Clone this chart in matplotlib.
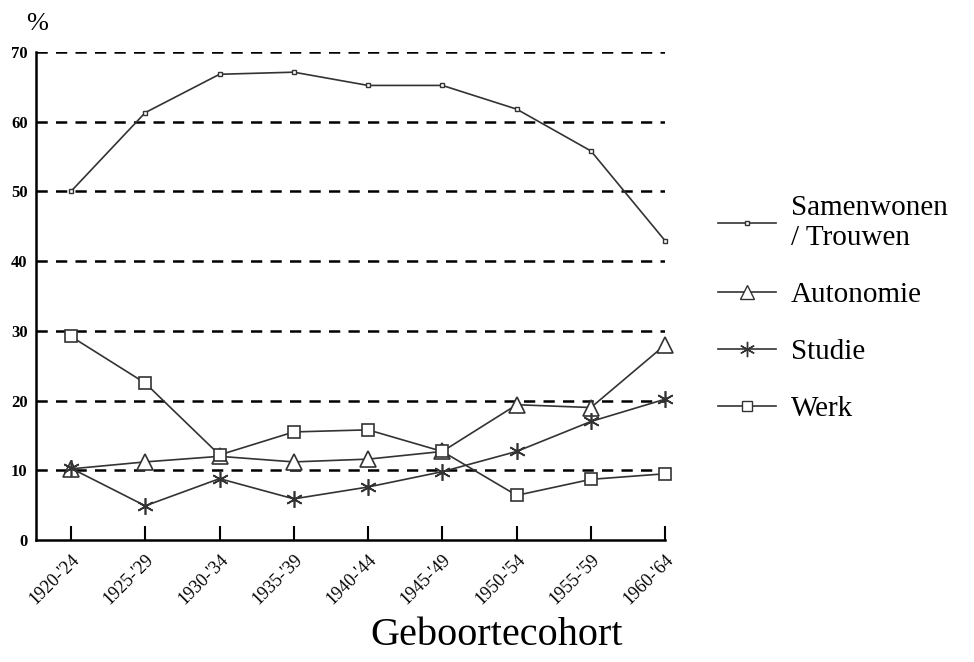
import numpy as np
import matplotlib
matplotlib.use("Agg")
import matplotlib.pyplot as plt
from matplotlib.lines import Line2D

plt.rcParams['font.family'] = ['Liberation Serif', 'DejaVu Serif']

cohorts = ["1920-'24", "1925-'29", "1930-'34", "1935-'39", "1940-'44",
           "1945-'49", "1950-'54", "1955-'59", "1960-'64"]
samenwonen = [50.0, 61.3, 66.8, 67.1, 65.2, 65.2, 61.8, 55.8, 42.9]
autonomie = [10.2, 11.2, 12.0, 11.2, 11.6, 12.7, 19.4, 19.0, 28.0]
studie = [10.3, 4.9, 8.8, 5.9, 7.6, 9.8, 12.7, 17.0, 20.2]
werk = [29.2, 22.5, 12.2, 15.5, 15.8, 12.7, 6.4, 8.7, 9.5]

yticks = [0, 10, 20, 30, 40, 50, 60, 70]

fig = plt.figure(figsize=(9.74, 6.62), dpi=100)
ax = fig.add_axes([0.037, 0.1843, 0.646, 0.7372])

x = np.arange(len(cohorts))
lc = '#333333'
asterisk = (6, 2, 0)

for y in yticks[1:]:
    ax.axhline(y, color='black', lw=1.8, ls=(0, (4.5, 3.3)), zorder=1)

ax.plot(x, samenwonen, color=lc, lw=1.2, marker='s', ms=3.5, mfc='white', mec=lc,
        zorder=3, clip_on=False)
ax.plot(x, autonomie, color=lc, lw=1.2, marker='^', ms=11, mfc='white', mec=lc, mew=1.2,
        zorder=3, clip_on=False)
ax.plot(x, studie, color=lc, lw=1.2, marker=asterisk, ms=12, mec=lc, mew=1.2,
        zorder=3, clip_on=False)
ax.plot(x, werk, color=lc, lw=1.2, marker='s', ms=8, mfc='white', mec=lc, mew=1.2,
        zorder=3, clip_on=False)

ax.set_xlim(-0.47, 8)
ax.set_ylim(0, 70)
ax.set_yticks(yticks)
ax.set_yticklabels([str(v) for v in yticks], fontsize=12, fontweight='bold')
ax.set_xticks(x)
ax.set_xticklabels(cohorts, rotation=45, ha='right', rotation_mode='anchor', fontsize=13)
ax.tick_params(axis='x', direction='in', length=10, width=1.5, pad=8)
ax.tick_params(axis='y', length=0, pad=6)
for s in ['top', 'right']:
    ax.spines[s].set_visible(False)
ax.spines['left'].set_linewidth(1.8)
ax.spines['bottom'].set_linewidth(1.8)

fig.text(0.027, 0.955, '%', fontsize=19)
fig.text(0.51, 0.025, 'Geboortecohort', fontsize=29, ha='center')

handles = [
    Line2D([], [], color=lc, lw=1.2, marker='s', ms=3.5, mfc='white', mec=lc),
    Line2D([], [], color=lc, lw=1.2, marker='^', ms=10, mfc='white', mec=lc),
    Line2D([], [], color=lc, lw=1.2, marker=asterisk, ms=11, mec=lc),
    Line2D([], [], color=lc, lw=1.2, marker='s', ms=7, mfc='white', mec=lc),
]
labels = ["Samenwonen\n/ Trouwen", "Autonomie", "Studie", "Werk"]
fig.legend(handles, labels, loc='upper left', bbox_to_anchor=(0.71, 0.745),
           frameon=False, fontsize=21, handlelength=2.0, handletextpad=0.5,
           labelspacing=1.05)

fig.savefig('out.png', dpi=100)
